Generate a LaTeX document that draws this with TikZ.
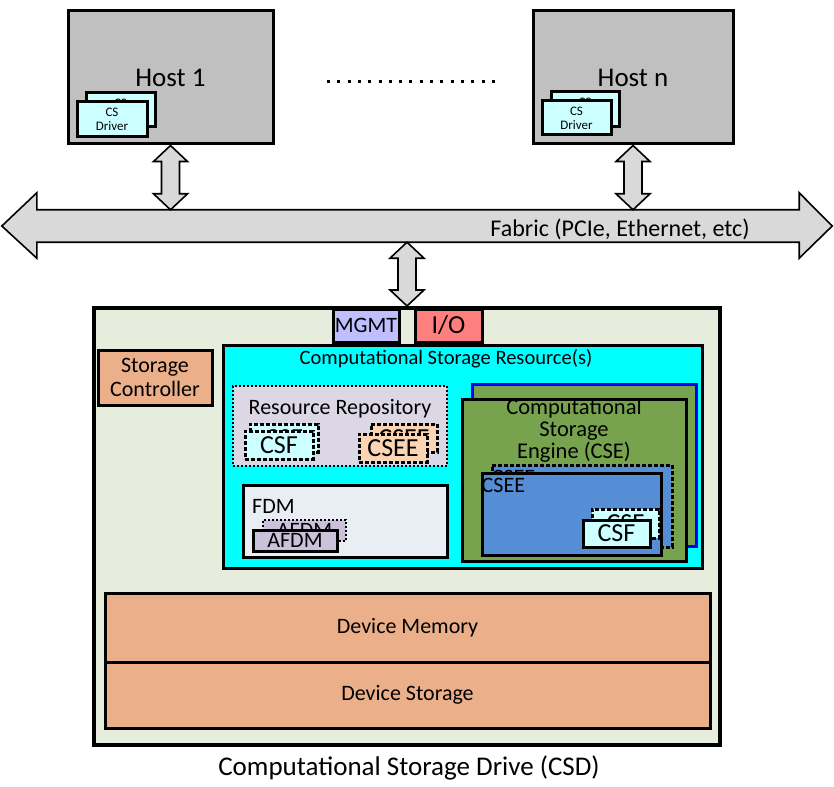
\documentclass[tikz,border=0pt]{standalone}
\usepackage{fontspec}
\setmainfont{Carlito}
\usetikzlibrary{calc}

\definecolor{hostgray}{HTML}{C0C0C0}
\definecolor{linkgray}{HTML}{D9D9D9}
\definecolor{drvcyan}{HTML}{CCFFFF}
\definecolor{csdbg}{HTML}{E6EDDC}
\definecolor{csrcyan}{HTML}{00FFFF}
\definecolor{mgmtblue}{HTML}{BFBFFF}
\definecolor{iored}{HTML}{FF7F7F}
\definecolor{peach}{HTML}{EBB08A}
\definecolor{lightpeach}{HTML}{FBD4B4}
\definecolor{repogray}{HTML}{DCD7E5}
\definecolor{fdmgray}{HTML}{E9EDF4}
\definecolor{afdmlilac}{HTML}{CCC1DA}
\definecolor{csegreen}{HTML}{77A34F}
\definecolor{cseeblue}{HTML}{558ED5}

% fat vertical double arrow from #1 (top) to #2 (bottom)
\newcommand\fatlink[2]{%
  \draw[link] let \p1=(#1), \p2=(#2) in
    (\x1,\y1) -- ++(17pt,-16pt) -- ++(-8pt,0pt) -- (\x1+9pt,\y2+16pt) -- ++(8pt,0pt)
    -- (\x1,\y2) -- ++(-17pt,16pt) -- ++(8pt,0pt) -- (\x1-9pt,\y1-16pt) -- ++(-8pt,0pt) -- cycle;}

\begin{document}
\begin{tikzpicture}[x=1pt, y=-1pt,
    box/.style={draw, line width=3pt, inner sep=0pt, align=center},
    dashbox/.style={box, dash pattern=on 4pt off 2pt},
    dotbox/.style={box, line width=2pt, dash pattern=on 2pt off 2pt},
    link/.style={draw, line width=1.6pt, fill=linkgray},
    dots/.style={line width=3pt, dash pattern=on 3pt off 7.3pt},
    big/.style={font=\fontsize{27}{31}\selectfont},
    mid/.style={font=\fontsize{22}{24}\selectfont},
    tag/.style={font=\fontsize{26}{28}\selectfont},
    tiny/.style={font=\fontsize{13}{14}\selectfont},
    lbl/.style={anchor=north west, inner sep=0pt, xshift=1pt, yshift=-7pt, font=\fontsize{22}{24}\selectfont}]

  \useasboundingbox (0,0) rectangle (834,786);

  % hosts
  \node[box, fill=hostgray, minimum width=205pt, minimum height=133pt, big] (host1) at (170.5,77.5) {Host 1};
  \node[box, fill=drvcyan, minimum width=69pt, minimum height=34pt, tiny] (drv1b) at (120.5,110) {CS\\Driver};
  \node[box, fill=drvcyan, minimum width=70pt, minimum height=35pt, tiny] (drv1) at (112,119.5) {CS\\Driver};

  \node[box, fill=hostgray, minimum width=200pt, minimum height=133pt, big] (hostn) at (633,77.5) {Host n};
  \node[box, fill=drvcyan, minimum width=68pt, minimum height=35pt, tiny] (drvnb) at (585,109.5) {CS\\Driver};
  \node[box, fill=drvcyan, minimum width=69pt, minimum height=34pt, tiny] (drvn) at (576.5,118) {CS\\Driver};

  \draw[dots] (327,82) -- (495,82);

  % fabric
  \node[inner sep=0pt, minimum width=762pt, minimum height=32pt] (fab) at (418,226) {};
  \draw[link] (fab.north west) -- (fab.north east) -- ([yshift=17pt]fab.north east)
    -- ([xshift=33pt]fab.east) -- ([yshift=-16pt]fab.south east) -- (fab.south east)
    -- (fab.south west) -- ([yshift=-16pt]fab.south west) -- ([xshift=-35pt]fab.west)
    -- ([yshift=17pt]fab.north west) -- cycle;
  \node[font=\fontsize{24}{26}\selectfont] (fabname) at (620,229) {Fabric (PCIe, Ethernet, etc)};

  % drive
  \node[box, line width=4pt, fill=csdbg, minimum width=626pt, minimum height=437pt] (csd) at (407,526.5) {};

  \fatlink{host1.south}{host1.south |- fab.north}
  \fatlink{hostn.south}{hostn.south |- fab.north}
  \fatlink{csd.north |- fab.south}{csd.north}

  \node[box, fill=mgmtblue, minimum width=66pt, minimum height=33pt, mid] (mgmt) at (366,325.5) {MGMT};
  \node[box, fill=iored, minimum width=67pt, minimum height=33pt, tag] (io) at (448.5,325.5) {I/O};
  \node[box, fill=peach, minimum width=114pt, minimum height=55pt, mid] (ctrl) at (155,377.5) {Storage\\Controller};

  % computational storage resources
  \node[box, fill=csrcyan, minimum width=479pt, minimum height=223pt] (csr) at (462.5,456.5) {};
  \node[font=\fontsize{20.5}{24}\selectfont] (csrname) at (446,359) {Computational Storage Resource(s)};

  \node[dotbox, fill=repogray, minimum width=214pt, minimum height=80pt] (repo) at (340,426) {};
  \node[mid] (reponame) at (340,409) {Resource Repository};
  \node[dashbox, fill=drvcyan, minimum width=68pt, minimum height=28pt, tag] (csf1b) at (284,438) {CSF};
  \node[dashbox, fill=drvcyan, minimum width=68pt, minimum height=28pt, tag] (csf1) at (279,445) {CSF};
  \node[dashbox, fill=lightpeach, minimum width=66pt, minimum height=28pt, tag] (csee1b) at (404,438) {CSEE};
  \node[dashbox, fill=lightpeach, minimum width=68pt, minimum height=28pt, tag] (csee1) at (393,448) {CSEE};

  \node[box, fill=fdmgray, minimum width=204pt, minimum height=72pt] (fdm) at (345,521) {};
  \node[mid, anchor=west, inner sep=0pt] (fdmname) at (252,506) {FDM};
  \node[dotbox, fill=afdmlilac, minimum width=83pt, minimum height=21pt, mid] (afdmb) at (304.5,530.5) {AFDM};
  \node[box, fill=afdmlilac, minimum width=84pt, minimum height=21pt, mid] (afdm) at (295,540.5) {AFDM};

  \node[box, draw=blue, fill=csegreen, minimum width=224pt, minimum height=162pt] (cseb) at (584,465) {};
  \node[box, fill=csegreen, minimum width=224pt, minimum height=162pt] (cse) at (574,480) {};
  \node[font=\fontsize{22.5}{22}\selectfont, align=center] (csename) at (574,431) {Computational\\Storage\\Engine (CSE)};
  \node[dashbox, fill=cseeblue, minimum width=180pt, minimum height=82pt, label={[lbl]north west:CSEE}] (cseeb) at (582,506) {};
  \node[box, fill=cseeblue, minimum width=179pt, minimum height=82pt, label={[lbl]north west:CSEE}] (csee) at (571.5,514) {};
  \node[dashbox, fill=drvcyan, minimum width=67pt, minimum height=29pt, tag] (csf2b) at (625.5,523.5) {CSF};
  \node[box, fill=drvcyan, minimum width=67pt, minimum height=27pt, tag] (csf2) at (616.5,533.5) {CSF};

  % memory and storage
  \node[box, fill=peach, minimum width=605pt, minimum height=69pt, mid] (mem) at (407.5,627.5) {Device Memory};
  \node[box, fill=peach, minimum width=605pt, minimum height=66pt, mid] (sto) at (407.5,695) {Device Storage};

  \node[big] (csdname) at (409,768) {Computational Storage Drive (CSD)};
\end{tikzpicture}
\end{document}
